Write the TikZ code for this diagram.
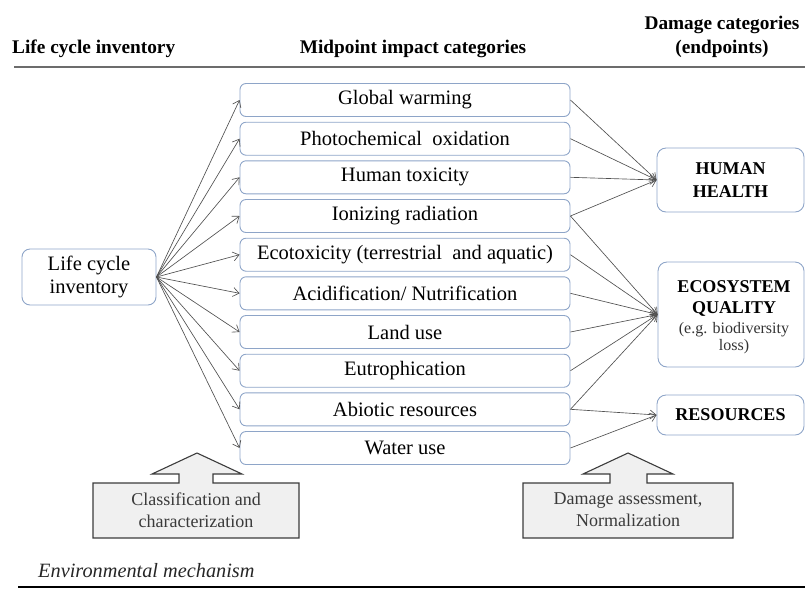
\documentclass[tikz,border=0pt]{standalone}
\usepackage{fontspec}
\setmainfont{Liberation Serif}
\usetikzlibrary{arrows.meta}
\definecolor{boxblue}{HTML}{8EA5C8}
\definecolor{linegray}{HTML}{505050}
\definecolor{blockfill}{HTML}{F0F0F0}
\definecolor{blockedge}{HTML}{3C3C3C}
\definecolor{blocktext}{HTML}{3A3A3A}
\tikzset{
  midbox/.style={draw=boxblue, line width=0.9pt, rounded corners=6pt, minimum width=330pt, minimum height=33pt, inner sep=0pt, font=\fontsize{20.5}{23}\selectfont},
  endbox/.style={draw=boxblue, line width=0.9pt, rounded corners=9pt, inner sep=0pt, align=center, font=\fontsize{18}{23}\selectfont\bfseries},
  arr/.style={draw=linegray, line width=0.65pt, -{Straight Barb[length=6pt,width=9pt]}},
  head/.style={font=\fontsize{19.3}{22}\selectfont\bfseries, inner sep=0pt},
  blockshape/.style={fill=blockfill, draw=blockedge, line width=1.1pt},
  blocklabel/.style={align=center, text=blocktext, inner sep=0pt, font=\fontsize{18}{22}\selectfont}
}
\begin{document}
\begin{tikzpicture}[x=1pt,y=-1pt]
\useasboundingbox (0,0) rectangle (805,590);

% headers
\node[head, anchor=base west] (h1) at (12,53) {Life cycle inventory};
\node[head, anchor=base] (h2) at (413,53) {Midpoint impact categories};
\node[head, anchor=base] (h3a) at (722,29) {Damage categories};
\node[head, anchor=base] (h3b) at (722,53) {(endpoints)};
\coordinate (rt1) at (14,67);
\coordinate (rt2) at (805,67);
\draw[line width=2pt, color=gray!85!black] (rt1) -- (rt2);

% life cycle inventory box
\node[draw=boxblue, line width=0.9pt, rounded corners=8pt, minimum width=134pt, minimum height=56pt, inner sep=0pt, align=center, font=\fontsize{20.5}{23}\selectfont] (lci) at (89,277) {Life cycle\\inventory};

% midpoint boxes
\node[midbox] (m1) at (405,100) {Global warming};
\node[midbox] (m2) at (405,138.7) {Photochemical\ \ oxidation};
\node[midbox] (m3) at (405,177.3) {Human toxicity};
\node[midbox] (m4) at (405,216) {Ionizing radiation};
\node[midbox] (m5) at (405,254.7) {Ecotoxicity (terrestrial\ \ and\ aquatic)};
\node[midbox] (m6) at (405,293.3) {Acidification/ Nutrification};
\node[midbox] (m7) at (405,332) {Land use};
\node[midbox] (m8) at (405,370.7) {Eutrophication};
\node[midbox] (m9) at (405,409.3) {Abiotic resources};
\node[midbox] (m10) at (405,448) {Water use};

% endpoint boxes
\node[endbox, minimum width=147pt, minimum height=64pt] (hh) at (730.5,180) {HUMAN\\HEALTH};
\node[endbox, minimum width=146pt, minimum height=105pt] (eco) at (731,314.5) {};
\node[align=center, inner sep=0pt, font=\fontsize{18}{21}\selectfont\bfseries] (ecot) at (734,298) {ECOSYSTEM\\QUALITY};
\node[align=center, inner sep=0pt, text=black!80, font=\fontsize{16}{17}\selectfont] (ecos) at (734,338) {(e.g. biodiversity\\loss)};
\node[endbox, minimum width=147pt, minimum height=40pt] (res) at (730.5,415) {RESOURCES};

% arrows from inventory
\foreach \i in {1,...,10} {\draw[arr] (lci.east) -- (m\i.west);}

% arrows to endpoints
\foreach \i in {1,2,3,4} {\draw[arr] (m\i.east) -- (hh.west);}
\foreach \i in {4,5,6,7,8,9} {\draw[arr] (m\i.east) -- (eco.west);}
\foreach \i in {9,10} {\draw[arr] (m\i.east) -- (res.west);}

% block arrows
\draw[blockshape] (93,483) -- (179,483) -- (179,474) -- (152,474) -- (197,453) -- (242,474) -- (213,474) -- (213,483) -- (299,483) -- (299,538) -- (93,538) -- cycle;
\node[blocklabel] (cls) at (196,510) {Classification and\\characterization};
\draw[blockshape] (523,483) -- (610,483) -- (610,474) -- (583,474) -- (628,453) -- (673,474) -- (647,474) -- (647,483) -- (733,483) -- (733,538) -- (523,538) -- cycle;
\node[blocklabel] (dmg) at (628,510) {Damage assessment,\\Normalization};

% bottom
\node[anchor=base west, inner sep=0pt, font=\fontsize{20.3}{22}\selectfont\itshape, text=black!85] (env) at (38,577) {Environmental mechanism};
\coordinate (rb1) at (18,587);
\coordinate (rb2) at (805,587);
\draw[line width=2pt, color=black] (rb1) -- (rb2);
\end{tikzpicture}
\end{document}
